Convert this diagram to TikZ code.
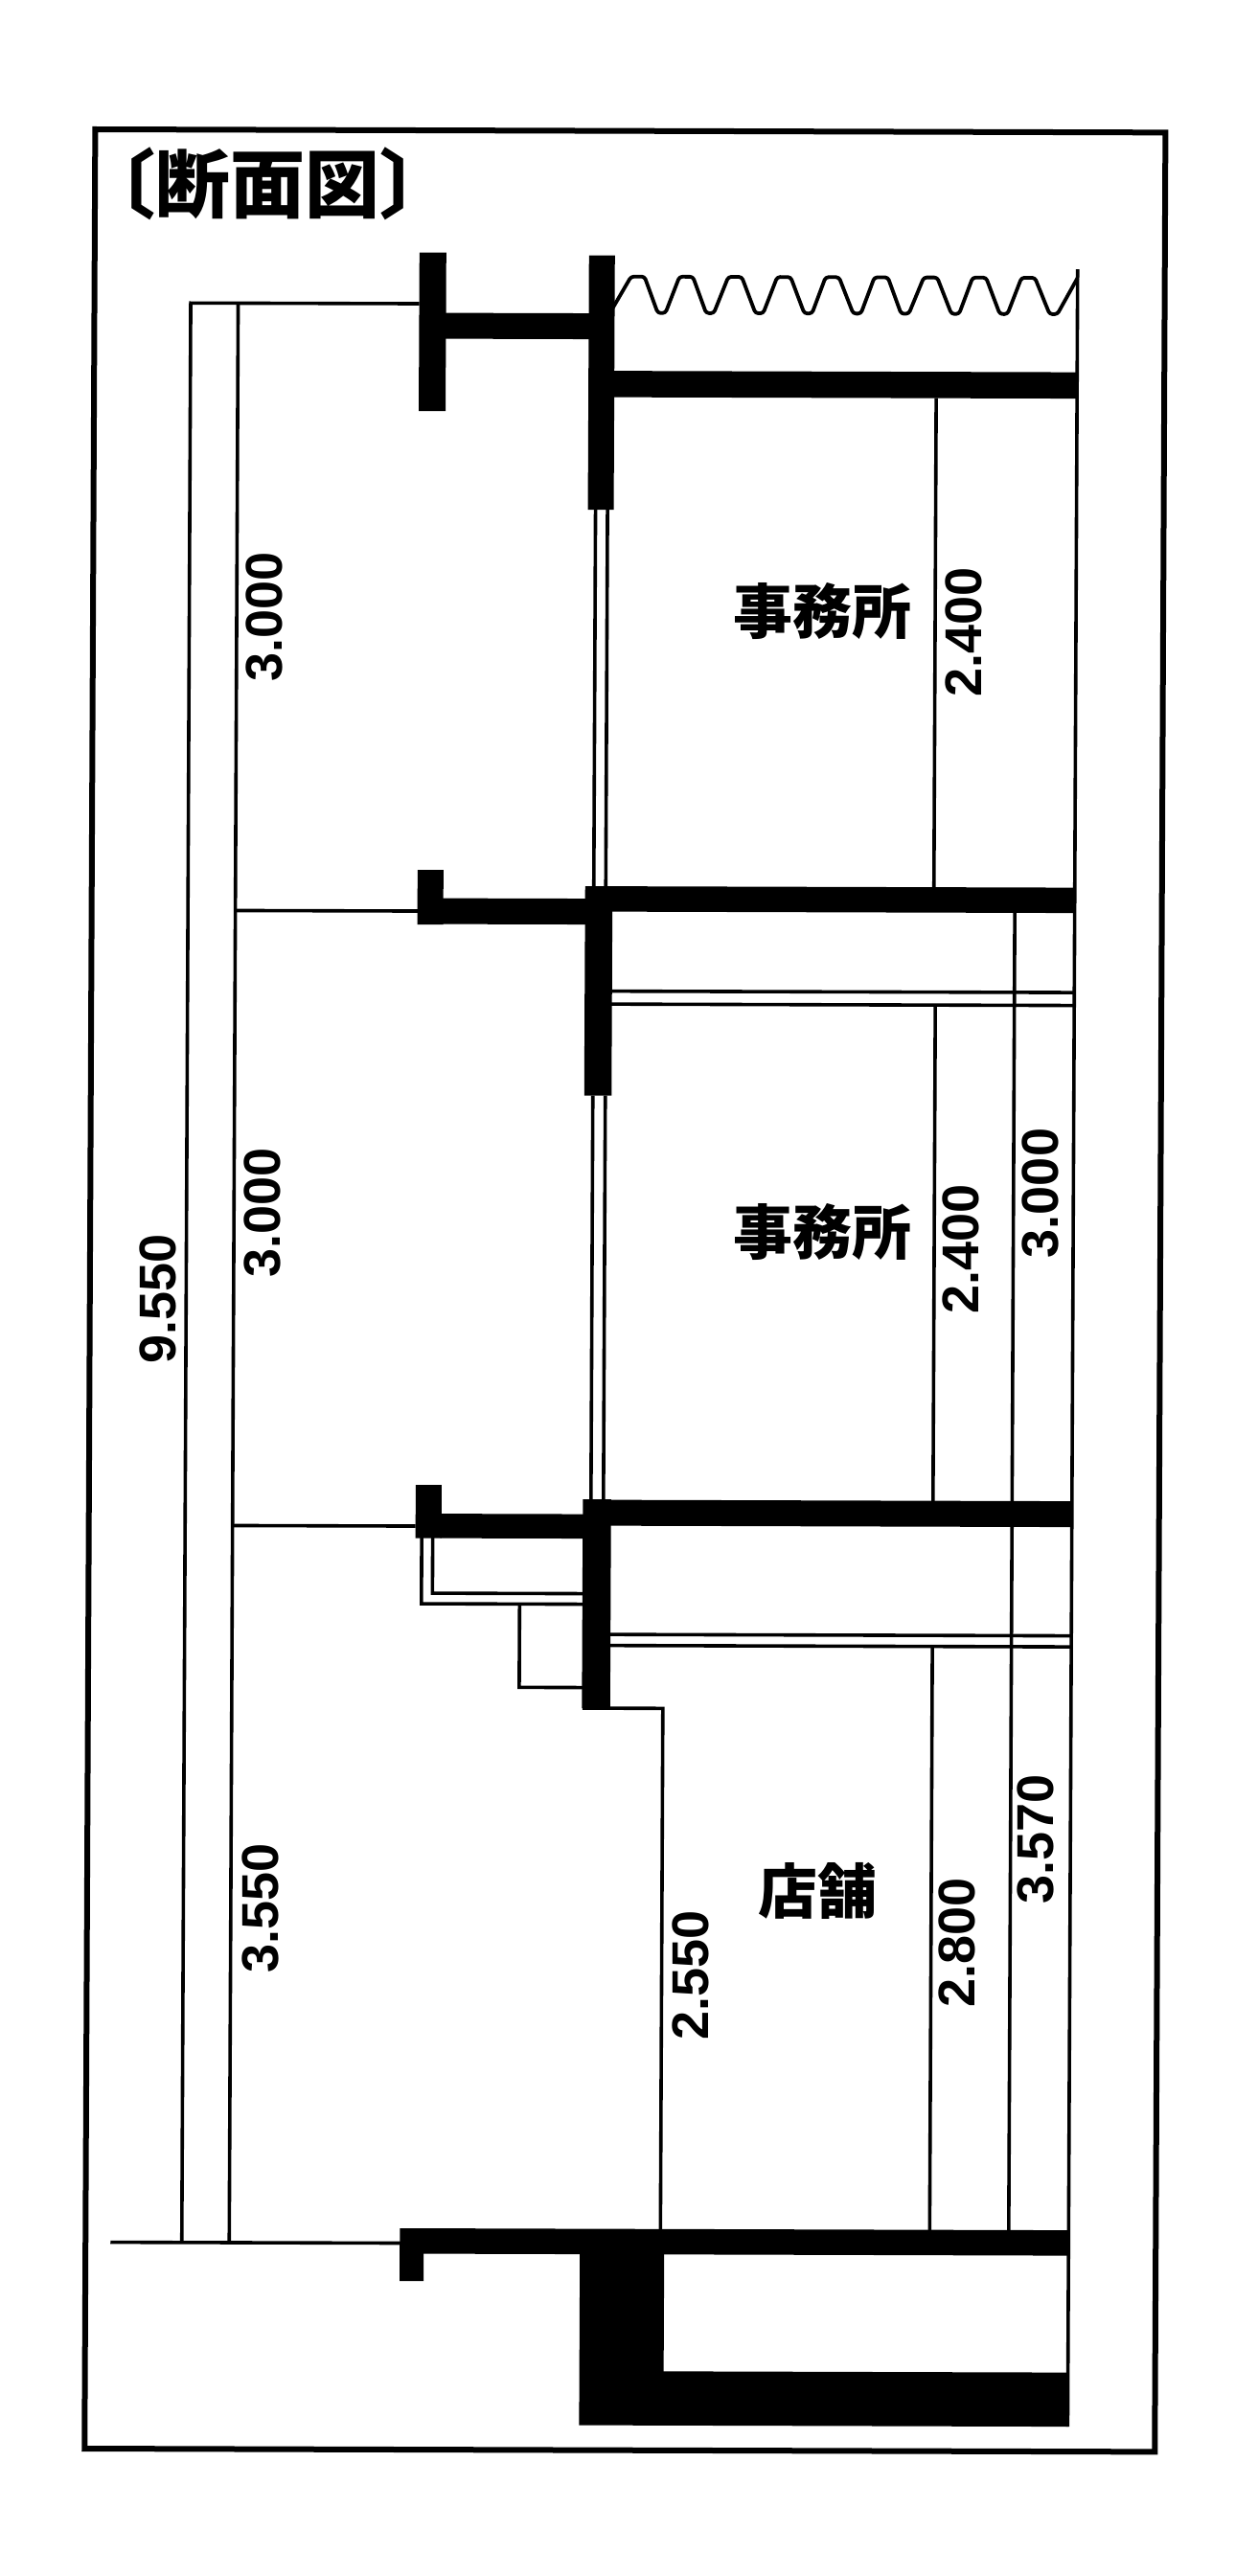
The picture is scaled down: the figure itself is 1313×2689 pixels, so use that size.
\documentclass[tikz,border=0pt]{standalone}
\usepackage{fontspec}
\setmainfont{Liberation Sans}
\newfontfamily\cjk{Noto Sans CJK JP}
\tikzset{
  solidpart/.style={fill=black,draw=none},
  thin line/.style={draw=black,line width=3.6pt},
  frame line/.style={draw=black,line width=6pt},
  zig line/.style={draw=black,line width=3.8pt,line join=round,rounded corners=3pt},
  dim/.style={font=\fontsize{54}{54}\selectfont\bfseries,rotate=90,inner sep=0pt,text=black},
  room/.style={font=\cjk\fontsize{62}{62}\selectfont\bfseries,inner sep=0pt,text=black},
  titletext/.style={font=\cjk\fontsize{78}{78}\selectfont\bfseries,inner sep=0pt,text=black},
}
\begin{document}
\begin{tikzpicture}
\fill[white] (0pt,0pt) rectangle (1313pt,-2689pt);
\useasboundingbox (0pt,0pt) rectangle (1313pt,-2689pt);
\begin{scope}[x=1pt,y=-1pt,cm={1,-0.003,0.0046,1,(1pt,0.3pt)}]
% frame
\draw[frame line] (99,135) rectangle (1216,2556);
% title
\node[titletext] (title) at (279,191) {〔断面図〕};
% dimension lines
\draw[thin line] (438,316) -- (199.5,316) -- (199.5,2340);
\draw[thin line] (249,316) -- (249,2340);
\draw[thin line] (249,950) -- (440,950);
\draw[thin line] (249,1592) -- (440,1592);
\draw[thin line] (125,2340.5) -- (428,2340.5);
\draw[thin line] (978,413) -- (978,924);
\draw[thin line] (980,1046) -- (980,1565);
\draw[thin line] (1062.5,950) -- (1062.5,2326);
\draw[thin line] (980,1716) -- (980,2326);
\draw[thin line] (1125,278) -- (1125,2530);
% windows
\draw[thin line] (623,530) -- (623,924);
\draw[thin line] (635.5,530) -- (635.5,924);
\draw[thin line] (623,1142) -- (623,1564);
\draw[thin line] (636,1142) -- (636,1564);
% ceilings
\draw[thin line] (642,1033) -- (1125,1033);
\draw[thin line] (642,1046.5) -- (1125,1046.5);
\draw[thin line] (644,1704.5) -- (1125,1704.5);
\draw[thin line] (644,1716) -- (1125,1716);
% soffit
\draw[thin line] (446.5,1604) -- (446.5,1673) -- (615,1673);
\draw[thin line] (458,1604) -- (458,1662) -- (615,1662);
\draw[thin line] (549,1673) -- (549,1760) -- (615,1760);
\draw[thin line] (615,1781.5) -- (699,1781.5) -- (699,2326);
% zigzag
\draw[zig line] (640,320) -- (659,287) -- (673,287) -- (687,325) -- (695,325)
  -- (709.5,287) -- (723.5,287) -- (737.5,325) -- (745.5,325)
  -- (760.5,287) -- (774.5,287) -- (789,325) -- (797,325)
  -- (811.5,287) -- (825.5,287) -- (840,325) -- (848,325)
  -- (862,287) -- (876,287) -- (891,325) -- (899,325)
  -- (913,287) -- (927,287) -- (941,325) -- (949,325)
  -- (964.5,287) -- (978.5,287) -- (993.5,325) -- (1001.5,325)
  -- (1015.5,287) -- (1029.5,287) -- (1044,325) -- (1052,325)
  -- (1066.5,287) -- (1080.5,287) -- (1096,325) -- (1104,325)
  -- (1125,287);
% top floor
\fill[solidpart] (438,262.5) rectangle (466,428);
\fill[solidpart] (465,325.5) rectangle (616,352.5);
\fill[solidpart] (615,265) rectangle (642,530.5);
\fill[solidpart] (641,385.5) rectangle (1126,413);
% second floor
\fill[solidpart] (439,907) rectangle (466,964);
\fill[solidpart] (465,936.5) rectangle (615,963.5);
\fill[solidpart] (614,923.5) rectangle (642.5,1142);
\fill[solidpart] (641,923.5) rectangle (1126,950);
% first floor
\fill[solidpart] (440,1549) rectangle (467,1604.5);
\fill[solidpart] (466,1579) rectangle (615.5,1604.5);
\fill[solidpart] (614.5,1563.5) rectangle (644,1781.5);
\fill[solidpart] (643,1564) rectangle (1126,1591);
% ground and basement
\fill[solidpart] (427,2325) rectangle (1126,2351.5);
\fill[solidpart] (427,2351) rectangle (452,2380);
\fill[solidpart] (615,2351) rectangle (703,2530);
\fill[solidpart] (702,2473.5) rectangle (1126,2530);
% labels
\node[dim] (d1) at (277.5,643) {3.000};
\node[dim] (d2) at (279,1265) {3.000};
\node[dim] (d3) at (280,1991) {3.550};
\node[dim] (d4) at (170,1356) {9.550};
\node[dim] (d5) at (1007.5,657) {2.400};
\node[dim] (d6) at (1008,1301) {2.400};
\node[dim] (d7) at (1091,1242.5) {3.000};
\node[dim] (d8) at (729.5,2060) {2.550};
\node[dim] (d9) at (1007.5,2025) {2.800};
\node[dim] (d10) at (1089,1917) {3.570};
\node[room] (r1) at (860,636) {事務所};
\node[room] (r2) at (863,1284) {事務所};
\node[room] (r3) at (861.5,1972) {店舗};
\end{scope}
\end{tikzpicture}
\end{document}
